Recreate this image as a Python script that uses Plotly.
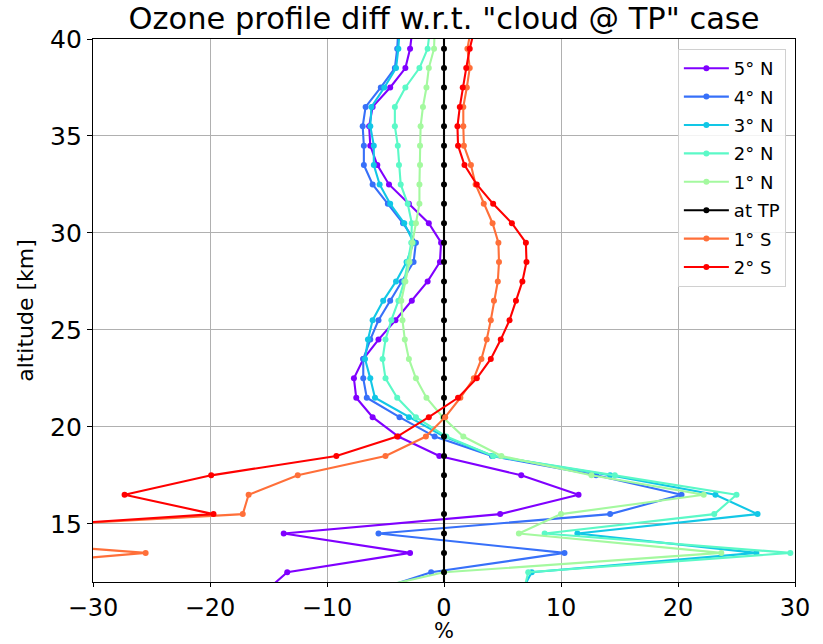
import plotly.graph_objects as go

altitude = [11.5, 12.5, 13.5, 14.5, 15.5, 16.5, 17.5, 18.5, 19.5, 20.5,
            21.5, 22.5, 23.5, 24.5, 25.5, 26.5, 27.5, 28.5, 29.5, 30.5,
            31.5, 32.5, 33.5, 34.5, 35.5, 36.5, 37.5, 38.5, 39.5, 40.5]

lat_5N = [-15.3, -13.4, -2.9, -13.7, 4.8, 11.5, 6.6, -0.4, -3.9, -6.1,
          -7.5, -7.7, -6.9, -5.6, -4.15, -2.75, -1.4, -0.35, -0.25, -1.3,
          -3.0, -4.7, -5.7, -6.3, -6.4, -6.1, -4.6, -3.3, -2.9, -2.7]
lat_4N = [-6.2, -1.1, 10.3, -5.6, 14.2, 20.3, 13.0, 4.1, -0.8, -3.8,
          -6.6, -6.9, -6.9, -6.3, -5.6, -4.6, -3.6, -2.6, -2.4, -3.5,
          -4.8, -6.1, -6.85, -6.85, -6.95, -6.7, -5.4, -4.2, -4.0, -3.9]
lat_3N = [6.6, 7.5, 26.7, 11.4, 26.8, 23.2, 14.2, 4.2, 0.0, -3.0,
          -5.9, -6.3, -6.75, -6.5, -6.1, -5.2, -4.1, -3.2, -2.6, -3.4,
          -4.6, -5.5, -6.0, -6.0, -6.3, -6.2, -5.1, -4.1, -3.9, -3.8]
lat_2N = [6.8, 7.2, 29.6, 8.6, 23.1, 25.0, 14.6, 4.2, 0.2, -2.4,
          -4.0, -5.0, -5.25, -5.0, -4.5, -3.9, -3.4, -3.1, -2.8, -2.75,
          -3.1, -3.7, -3.85, -3.95, -4.2, -4.2, -3.3, -2.1, -1.4, -1.2]
lat_1N = [-7.3, 0.0, 23.7, 6.4, 10.0, 22.2, 12.6, 4.9, 1.65, -0.1,
          -1.5, -2.4, -3.0, -3.35, -3.55, -3.65, -3.3, -2.95, -2.7, -2.4,
          -2.1, -2.1, -2.05, -2.05, -2.0, -1.8, -1.5, -1.3, -0.85, -0.8]
at_TP = [0.0] * 30
lat_1S = [-40.0, -45.0, -25.5, -47.0, -17.2, -16.7, -12.5, -5.0, -1.55, 0.1,
          1.4, 2.55, 3.2, 3.65, 4.0, 4.27, 4.6, 4.7, 4.65, 4.15,
          3.4, 2.7, 2.3, 1.7, 1.65, 1.65, 1.95, 2.2, 2.0, 2.3]
lat_2S = [-50.0, -50.0, -50.0, -45.0, -19.7, -27.3, -19.9, -9.2, -4.0, -1.3,
          1.2, 2.8, 4.0, 4.85, 5.6, 6.15, 6.7, 7.05, 7.0, 5.8,
          4.2, 2.8, 1.75, 1.2, 1.15, 1.35, 1.6, 1.9, 2.2, 2.6]

series_names = ["5° N", "4° N", "3° N", "2° N", "1° N", "at TP", "1° S", "2° S"]
series_values = [lat_5N, lat_4N, lat_3N, lat_2N, lat_1N, at_TP, lat_1S, lat_2S]
series_colors = ["#8000ff", "#3770f9", "#12c7e6", "#5bf9c7", "#a4f99f",
                 "#000000", "#ff6f39", "#ff0000"]

x_ticks = [-30, -20, -10, 0, 10, 20, 30]
y_ticks = [15, 20, 25, 30, 35, 40]

FONT = "DejaVu Sans"

fig = go.Figure()
for i, (name, vals, col) in enumerate(zip(series_names, series_values, series_colors)):
    fig.add_trace(go.Scatter(
        x=vals, y=altitude, name=name, mode="lines+markers",
        line=dict(color=col, width=2.1),
        marker=dict(color=col, size=6),
        legendgroup=f"g{i}",
    ))

axis_common = dict(
    showline=True, linecolor="black", linewidth=1.3, mirror=True,
    ticks="outside", tickwidth=1.2, tickcolor="black",
    showgrid=True, gridcolor="#b0b0b0", gridwidth=1,
    zeroline=False, automargin=False,
)

fig.update_layout(
    width=823, height=644,
    margin=dict(l=93, r=28, t=39, b=62),
    paper_bgcolor="white", plot_bgcolor="white",
    title=dict(text='Ozone profile diff w.r.t. "cloud @ TP" case',
               font=dict(family=FONT, size=30.5, color="black"),
               x=0.5, xanchor="center", xref="paper", y=1 - 18 / 644, yanchor="middle"),
    xaxis=dict(range=[-30, 30], tickvals=x_ticks, ticklen=4,
               tickfont=dict(family=FONT, size=24, color="black"), **axis_common),
    yaxis=dict(range=[12, 40], tickvals=y_ticks, ticklen=5,
               tickfont=dict(family=FONT, size=25, color="black"),
               title=dict(text="altitude [km]", font=dict(family=FONT, size=22, color="black"),
                          standoff=10),
               **axis_common),
    legend=dict(x=0.987, y=0.9816, xanchor="right", yanchor="top",
                bgcolor="rgba(255,255,255,0.85)", bordercolor="#d0d0d0", borderwidth=1,
                font=dict(family=FONT, size=18, color="black"),
                traceorder="grouped", tracegroupgap=2, itemwidth=45),
    showlegend=True,
    annotations=[dict(text="%", xref="paper", yref="paper", x=0.5, y=-49 / 543,
                      xanchor="center", yanchor="middle", showarrow=False,
                      font=dict(family=FONT, size=21, color="black"))],
)

fig.write_html("out.html")
